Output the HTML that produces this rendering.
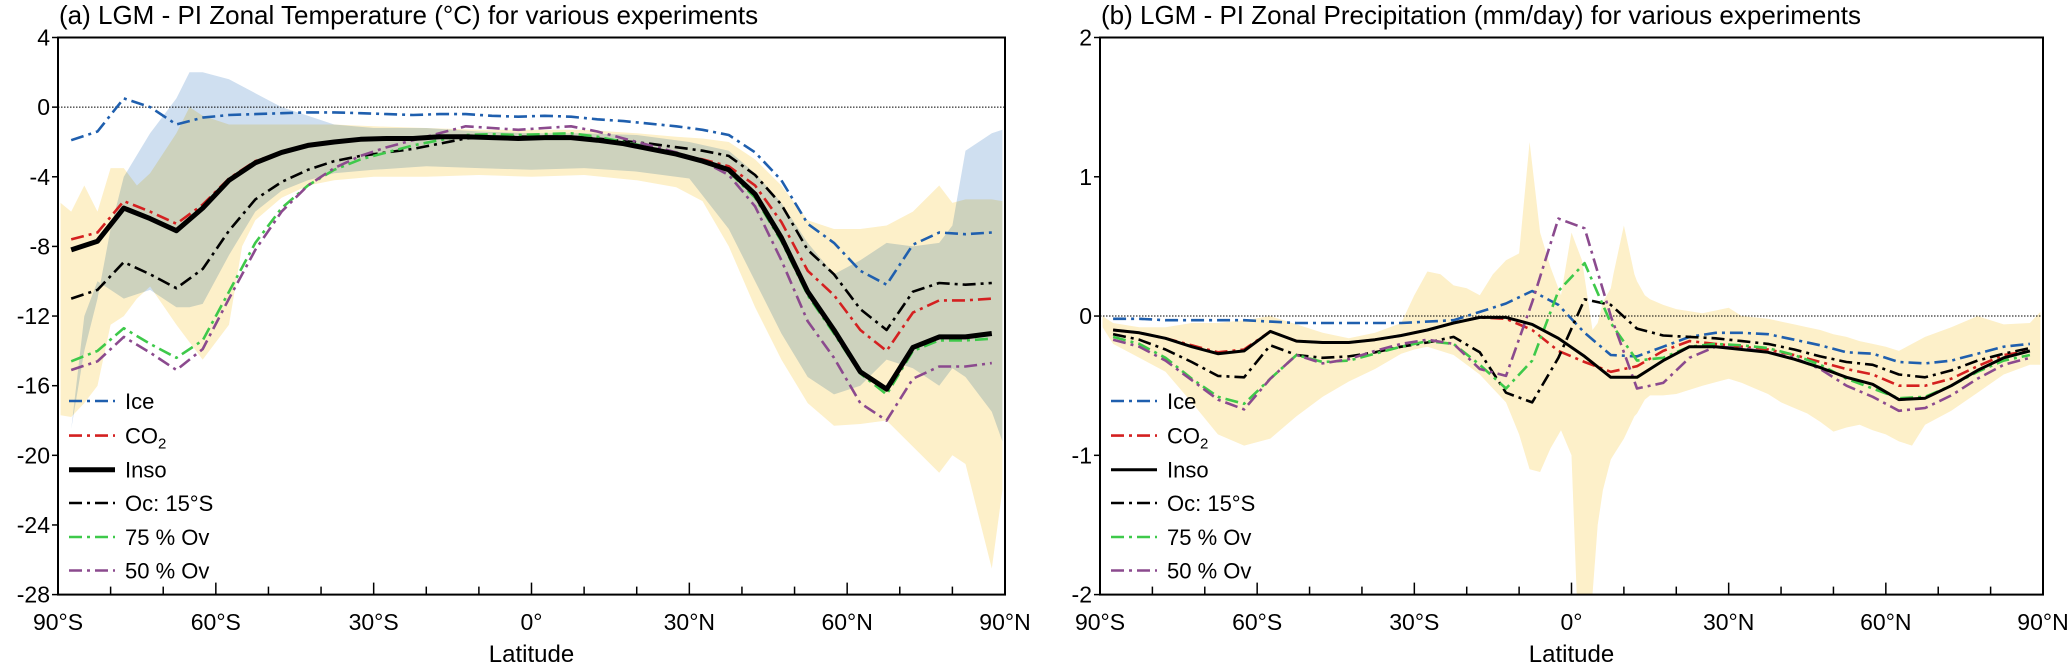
<!DOCTYPE html>
<html><head><meta charset="utf-8"><style>
html,body{margin:0;padding:0;background:#fff;}
svg text{font-family:"Liberation Sans",sans-serif;fill:#000;}
</style></head><body>
<svg id="chart" width="2067" height="665" viewBox="0 0 2067 665" xmlns="http://www.w3.org/2000/svg"></svg>
<script>
const lats=[-87.5,-82.5,-77.5,-72.5,-67.5,-62.5,-57.5,-52.5,-47.5,-42.5,-37.5,-32.5,-27.5,-22.5,-17.5,-12.5,-7.5,-2.5,2.5,7.5,12.5,17.5,22.5,27.5,32.5,37.5,42.5,47.5,52.5,57.5,62.5,67.5,72.5,77.5,82.5,87.5];
const seriesNames=["Ice","CO2","Inso","Oc: 15°S","75 % Ov","50 % Ov"];
// Temperature (a)
const tIce=[-1.9,-1.4,0.5,0,-1.0,-0.6,-0.45,-0.4,-0.35,-0.3,-0.3,-0.35,-0.4,-0.45,-0.4,-0.4,-0.5,-0.55,-0.5,-0.55,-0.7,-0.8,-0.95,-1.1,-1.3,-1.6,-2.6,-4.2,-6.7,-7.8,-9.4,-10.2,-7.9,-7.2,-7.3,-7.2];
const tCO2=[-7.6,-7.2,-5.4,-6.0,-6.7,-5.6,-4.1,-3.1,-2.6,-2.2,-2.0,-1.85,-1.8,-1.8,-1.7,-1.7,-1.75,-1.8,-1.75,-1.75,-1.9,-2.1,-2.4,-2.7,-3.0,-3.4,-4.5,-6.6,-9.4,-10.8,-12.8,-14.0,-11.8,-11.1,-11.1,-11.0];
const tInso=[-8.2,-7.7,-5.8,-6.4,-7.1,-5.8,-4.2,-3.2,-2.6,-2.2,-2.0,-1.85,-1.8,-1.8,-1.7,-1.7,-1.75,-1.8,-1.75,-1.75,-1.9,-2.1,-2.4,-2.7,-3.1,-3.6,-5.0,-7.5,-10.6,-12.8,-15.2,-16.2,-13.8,-13.2,-13.2,-13.0];
const tOc=[-11.0,-10.5,-8.9,-9.6,-10.4,-9.3,-7.1,-5.3,-4.3,-3.6,-3.1,-2.8,-2.6,-2.4,-2.1,-1.8,-1.7,-1.7,-1.7,-1.7,-1.8,-1.95,-2.1,-2.3,-2.5,-2.8,-3.9,-5.6,-8.2,-9.6,-11.6,-12.8,-10.6,-10.1,-10.2,-10.1];
const tOv75=[-14.6,-14.0,-12.7,-13.6,-14.4,-13.4,-10.6,-7.8,-5.8,-4.5,-3.6,-3.0,-2.6,-2.2,-1.9,-1.6,-1.55,-1.6,-1.55,-1.5,-1.7,-2.0,-2.3,-2.7,-3.1,-3.7,-5.2,-7.7,-10.8,-13.0,-15.3,-16.5,-14.0,-13.4,-13.4,-13.3];
const tOv50=[-15.1,-14.6,-13.2,-14.1,-15.1,-13.9,-11.0,-8.2,-6.0,-4.5,-3.5,-2.8,-2.3,-1.9,-1.5,-1.1,-1.2,-1.3,-1.2,-1.1,-1.4,-1.8,-2.2,-2.6,-3.1,-3.9,-5.7,-8.8,-12.3,-14.4,-17.0,-18.0,-15.6,-14.9,-14.9,-14.7];
const tYLat=[-89.5,-87.5,-85,-82.5,-80,-77.5,-75,-72.5,-67.5,-65,-62.5,-57.5,-55,-52.5,-47.5,-42.5,-37.5,-30,-20,-10,0,10,20,27.5,32.5,37.5,42.5,47.5,52.5,57.5,62.5,67.5,72.5,77.5,80,82.5,87.5,89.5];
const tYUp=[-5.5,-6,-4.5,-6,-3.5,-3.5,-4.5,-3.8,-1.5,0,-0.5,-1.0,-1.0,-1.0,-1.0,-1.0,-1.0,-1.1,-1.2,-1.3,-1.3,-1.3,-1.5,-1.7,-1.8,-2.0,-3.0,-4.5,-6.5,-7.0,-7.0,-6.8,-6.0,-4.5,-5.5,-5.3,-5.3,-5.4];
const tYLo=[-17.7,-17.8,-17.0,-16.0,-12.5,-12.0,-11.0,-10.3,-12.5,-13.5,-14.5,-12.5,-8.0,-6.5,-5.2,-4.5,-4.2,-4.0,-4.0,-3.9,-4.0,-3.9,-4.2,-4.6,-5.4,-8.0,-11.5,-14.5,-17.0,-18.3,-18.2,-18.0,-19.5,-21.0,-20.0,-20.5,-26.5,-22.0];
const tBLat=[-89.5,-87.5,-85,-82.5,-80,-77.5,-72.5,-67.5,-65,-62.5,-57.5,-52.5,-47.5,-42.5,-37.5,-30,-20,-10,0,10,20,30,37.5,42.5,47.5,52.5,57.5,62.5,67.5,72.5,77.5,80,82.5,87.5,89.5];
const tBUp=[-18.5,-18.5,-14,-11,-7,-4,-1.5,0.5,2.0,2.0,1.6,0.8,0,-0.5,-1.0,-1.2,-1.2,-1.4,-1.5,-1.5,-1.6,-2.0,-2.5,-3.8,-5.5,-7.8,-9.6,-8.8,-7.8,-8.0,-7.8,-6.8,-2.5,-1.5,-1.3];
const tBLo=[-18.5,-18.5,-12.0,-10.0,-10.5,-11.0,-10.5,-11.5,-11.5,-11.3,-8.5,-6.0,-4.8,-4.2,-3.8,-3.6,-3.4,-3.5,-3.6,-3.5,-3.7,-4.1,-7.0,-10.0,-13.0,-15.5,-16.5,-16.0,-14.5,-15.0,-16.0,-15.0,-15.5,-17.5,-19.2];
// Precipitation (b)
const pIce=[-0.02,-0.02,-0.03,-0.03,-0.03,-0.03,-0.04,-0.05,-0.05,-0.05,-0.05,-0.05,-0.04,-0.03,0.03,0.09,0.18,0.08,-0.12,-0.28,-0.29,-0.22,-0.15,-0.12,-0.12,-0.13,-0.17,-0.21,-0.26,-0.27,-0.33,-0.34,-0.32,-0.27,-0.22,-0.2];
const pCO2=[-0.1,-0.12,-0.16,-0.21,-0.26,-0.24,-0.11,-0.18,-0.19,-0.19,-0.17,-0.14,-0.1,-0.05,-0.01,-0.02,-0.1,-0.25,-0.33,-0.4,-0.36,-0.25,-0.18,-0.2,-0.22,-0.24,-0.28,-0.33,-0.38,-0.42,-0.5,-0.5,-0.45,-0.36,-0.28,-0.25];
const pInso=[-0.1,-0.12,-0.16,-0.22,-0.27,-0.25,-0.11,-0.18,-0.19,-0.19,-0.17,-0.14,-0.1,-0.05,-0.01,-0.01,-0.06,-0.16,-0.29,-0.44,-0.44,-0.32,-0.22,-0.22,-0.24,-0.26,-0.31,-0.37,-0.44,-0.49,-0.6,-0.59,-0.5,-0.39,-0.3,-0.25];
const pOc=[-0.13,-0.17,-0.24,-0.33,-0.43,-0.44,-0.21,-0.28,-0.3,-0.29,-0.26,-0.22,-0.19,-0.15,-0.26,-0.55,-0.62,-0.3,0.12,0.08,-0.09,-0.14,-0.15,-0.16,-0.18,-0.2,-0.24,-0.29,-0.33,-0.35,-0.42,-0.44,-0.39,-0.32,-0.27,-0.23];
const pOv75=[-0.15,-0.2,-0.3,-0.45,-0.58,-0.63,-0.45,-0.28,-0.33,-0.32,-0.27,-0.22,-0.18,-0.2,-0.35,-0.52,-0.32,0.18,0.38,-0.05,-0.32,-0.3,-0.22,-0.2,-0.21,-0.23,-0.28,-0.35,-0.45,-0.52,-0.59,-0.58,-0.5,-0.4,-0.32,-0.28];
const pOv50=[-0.17,-0.22,-0.32,-0.46,-0.6,-0.67,-0.45,-0.28,-0.34,-0.31,-0.25,-0.2,-0.17,-0.2,-0.38,-0.43,0.1,0.7,0.63,0.0,-0.52,-0.48,-0.3,-0.22,-0.23,-0.26,-0.3,-0.38,-0.5,-0.58,-0.68,-0.66,-0.57,-0.45,-0.35,-0.3];
const pYLat=[-89.5,-87.5,-82.5,-77.5,-72.5,-67.5,-62.5,-57.5,-52.5,-47.5,-42.5,-37.5,-32.5,-30,-27.5,-25,-22.5,-20,-17.5,-15,-12.5,-10,-8,-6,-4,-2,0,1,2,4,5,6,7.5,8,10,12,12.5,14,15,17.5,20,25,30,32.5,35,37.5,40,42.5,45,47.5,50,52.5,55,57.5,60,62.5,65,67.5,72.5,77.5,82.5,87.5,89.5];
const pYUp=[0.0,-0.05,-0.08,-0.08,-0.05,-0.05,-0.03,0.0,-0.06,-0.12,-0.16,-0.12,-0.05,0.15,0.32,0.3,0.22,0.2,0.15,0.3,0.4,0.45,1.25,0.6,0.35,0.15,0.6,0.5,0.4,-0.1,-0.05,0.1,0.2,0.3,0.65,0.3,0.25,0.15,0.12,0.08,0.05,0.02,0.06,0.0,-0.01,-0.02,-0.04,-0.06,-0.08,-0.1,-0.13,-0.15,-0.18,-0.2,-0.22,-0.25,-0.2,-0.15,-0.08,0.0,-0.06,-0.05,0.03];
const pYLo=[-0.08,-0.2,-0.3,-0.4,-0.62,-0.85,-0.93,-0.88,-0.72,-0.58,-0.47,-0.38,-0.27,-0.24,-0.22,-0.25,-0.28,-0.35,-0.42,-0.52,-0.62,-0.85,-1.1,-1.12,-0.95,-0.82,-1.0,-2.0,-2.0,-2.0,-1.5,-1.25,-1.03,-1.0,-0.88,-0.72,-0.7,-0.6,-0.57,-0.57,-0.56,-0.5,-0.45,-0.48,-0.52,-0.56,-0.62,-0.66,-0.7,-0.76,-0.83,-0.8,-0.78,-0.82,-0.85,-0.9,-0.93,-0.78,-0.68,-0.55,-0.42,-0.35,-0.35];
const latTicks=["90°S","60°S","30°S","0°","30°N","60°N","90°N"];
const tTicks=[4,0,-4,-8,-12,-16,-20,-24,-28];
const pTicks=[2,1,0,-1,-2];

const NS="http://www.w3.org/2000/svg";
const svg=document.getElementById('chart');
function mk(tag,attrs,parent){const e=document.createElementNS(NS,tag);for(const k in attrs)e.setAttribute(k,attrs[k]);(parent||svg).appendChild(e);return e;}
const colors=["#1f5fae","#d42020","#000000","#000000","#3ec94a","#8b4a8e"];
const DD="13,5,3,5";
const dashes=[DD,DD,null,DD,DD,DD];

function panel(cfg){
  const g=mk('g',{});
  
  
  const L=cfg.x0,R=cfg.x1,T=37.5,B=594.6;
  const xs=lat=>L+(lat+90)/180*(R-L);
  const ys=v=>T+(cfg.ymax-v)/(cfg.ymax-cfg.ymin)*(B-T);
  const title=mk('text',{x:L+1,y:24,'font-size':26},g);title.textContent=cfg.title;
  
  
  function band(la,up,lo,fill,nm){
    let d='';la.forEach((l,i)=>{d+=(i?'L':'M')+xs(l).toFixed(1)+','+ys(up[i]).toFixed(1);});
    for(let i=la.length-1;i>=0;i--)d+='L'+xs(la[i]).toFixed(1)+','+ys(lo[i]).toFixed(1);
    const p=mk('path',{d:d+'Z',fill:fill,style:'mix-blend-mode:multiply'},g);
    
    
  }
  band(cfg.yLat,cfg.yUp,cfg.yLo,'#fdf0c9','yellow-spread-band');
  if(cfg.bLat)band(cfg.bLat,cfg.bUp,cfg.bLo,'#cfdff0','blue-spread-band');
  const zl=mk('line',{x1:L,x2:R,y1:ys(0),y2:ys(0),stroke:'#000','stroke-width':1,'stroke-dasharray':'1.5,1.5'},g);
  
  
  const order=[0,1,3,4,5,2];
  order.forEach(si=>{
    const vals=cfg.series[si];
    const pts=lats.map((l,i)=>xs(l).toFixed(1)+','+ys(vals[i]).toFixed(1)).join(' ');
    const a={points:pts,fill:'none',stroke:colors[si],'stroke-width':si==2?cfg.insoW:2.6,'stroke-linejoin':'round'};
    if(dashes[si])a['stroke-dasharray']=dashes[si];
    const pl=mk('polyline',a,g);
    
    
  });
  const box=mk('rect',{x:L,y:T,width:R-L,height:B-T,fill:'none',stroke:'#000','stroke-width':2},g);
  
  
  for(let lat=-90;lat<=90;lat+=10){
    const tk=mk('line',{x1:xs(lat),x2:xs(lat),y1:B,y2:B-(lat%30===0?12:8),stroke:'#000','stroke-width':1.5},g);
    
    
  }
  latTicks.forEach((t,i)=>{
    const lat=-90+i*30;
    const tx=mk('text',{x:xs(lat),y:630,'font-size':23,'text-anchor':'middle'},g);tx.textContent=t;
    
    
  });
  cfg.ticks.forEach(v=>{
    const tk=mk('line',{x1:L-6,x2:L,y1:ys(v),y2:ys(v),stroke:'#000','stroke-width':1.5},g);
    
    
    const tx=mk('text',{x:L-8,y:ys(v)+8,'font-size':23,'text-anchor':'end'},g);tx.textContent=v<0?'-'+Math.abs(v):String(v);
    
    
  });
  const xl=mk('text',{x:(L+R)/2,y:662,'font-size':24,'text-anchor':'middle'},g);xl.textContent='Latitude';
  
  
  const rows=[401,435.6,469.7,503,537,570.5];
  seriesNames.forEach((n,si)=>{
    const lg=mk('g',{},g);
    
    
    const a={x1:L+11,x2:L+57,y1:rows[si],y2:rows[si],stroke:colors[si],'stroke-width':si==2?cfg.insoW:2.6};
    if(dashes[si])a['stroke-dasharray']=DD;
    mk('line',a,lg);
    const tx=mk('text',{x:L+67,y:rows[si]+8,'font-size':22},lg);
    if(n==='CO2'){tx.textContent='CO';const s=mk('tspan',{'font-size':15,dy:5},tx);s.textContent='2';}
    else tx.textContent=n;
  });
}
panel({name:'temperature-panel',x0:58,x1:1005,ymax:4,ymin:-28,ticks:tTicks,insoW:5,
  title:'(a) LGM - PI Zonal Temperature (°C) for various experiments',
  series:[tIce,tCO2,tInso,tOc,tOv75,tOv50],yLat:tYLat,yUp:tYUp,yLo:tYLo,bLat:tBLat,bUp:tBUp,bLo:tBLo});
panel({name:'precipitation-panel',x0:1100,x1:2043,ymax:2,ymin:-2,ticks:pTicks,insoW:3,
  title:'(b) LGM - PI Zonal Precipitation (mm/day) for various experiments',
  series:[pIce,pCO2,pInso,pOc,pOv75,pOv50],yLat:pYLat,yUp:pYUp,yLo:pYLo});
</script>
</body></html>
